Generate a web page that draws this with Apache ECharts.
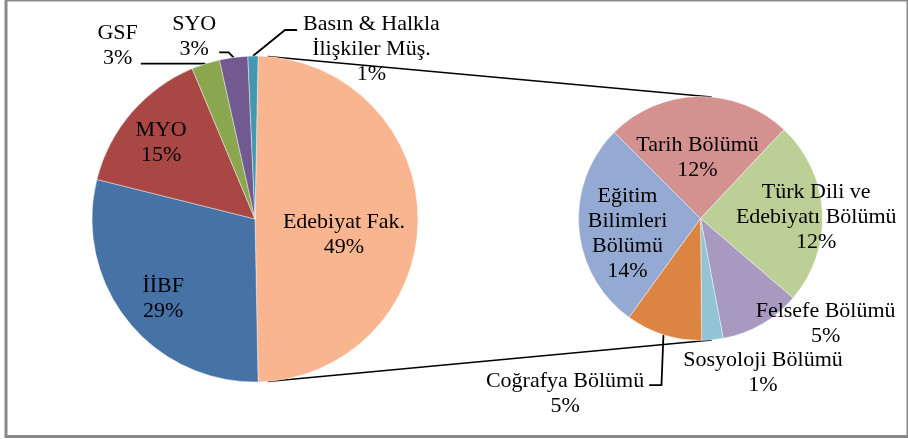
<!DOCTYPE html>
<html><head><meta charset="utf-8">
<script src="https://cdn.jsdelivr.net/npm/echarts@6/dist/echarts.min.js"></script>
<style>html,body{margin:0;padding:0;background:#fff}#c{width:908px;height:439px}</style>
</head><body><div id="c"></div>
<script>
// ---- data ----
const mainNames = ['Edebiyat Fak.', 'İİBF', 'MYO', 'GSF', 'SYO', 'Basın & Halkla\nİlişkiler Müş.'];
const mainValues = [49.4, 29.2, 14.8, 2.8, 2.8, 1.0];
const subNames = ['Tarih Bölümü', 'Türk Dili ve\nEdebiyatı Bölümü', 'Felsefe Bölümü', 'Sosyoloji Bölümü', 'Coğrafya Bölümü', 'Eğitim\nBilimleri\nBölümü'];
const subValues = [12.1, 12.0, 5.3, 1.4, 5.0, 13.6];

// ---- styles ----
const mainColors = ['#F8B590', '#4672A6', '#A94744', '#8AA64F', '#725990', '#4398AF'];
const subColors = ['#D39290', '#BBCF96', '#A899C1', '#93C4D6', '#DC8441', '#95AAD2'];
const L = {cx: 255, cy: 219, r: 163};
const R = {cx: 700.5, cy: 218.5, r: 122};
const FONT = 'Liberation Serif', FS = 22, LH = 25;
// [radius factor along mid angle, dx, dy]
const mainLabelPos = [[0.546, 0, 16], [0.72, 0, 7], [0.76, 0, 4], [1, -88, -17.6], [1, -39.4, -20.4], [1, 118.5, -7]];
const subLabelPos = [[0.5, -2, 0], [0.95, 0, 5], [1, 64, 0], [1, 50.5, 33], [1, -98.4, 59.3], [0.6, 0, 9]];
const mainOutside = [false, false, false, true, true, true];
const subOutside = [false, false, true, true, true, false];
const subLeader = [false, false, false, false, true, false];

const sum = a => a.reduce((s, v) => s + v, 0);
const grandTotal = sum(mainValues);
const mainStartDeg = mainValues[0] / sum(mainValues) * 360 / 2; // echarts angle (ccw from 3 o'clock)
const subStartDeg = 135;

function midAngles(values, startDeg) { // clockwise from top
  const tot = sum(values); let a = 90 - startDeg; const out = [];
  values.forEach(v => { const w = v / tot * 360; out.push(a + w / 2); a += w; });
  return out;
}
function arcPt(c, theta, k) {
  const t = theta * Math.PI / 180;
  return [c.cx + c.r * k * Math.sin(t), c.cy - c.r * k * Math.cos(t)];
}
const mainMid = midAngles(mainValues, mainStartDeg);
const subMid = midAngles(subValues, subStartDeg);

const lineStyle = {color: '#000', width: 1.8};
function mkData(names, values, colors, outside, leader) {
  return names.map((n, i) => ({
    name: n, value: values[i],
    itemStyle: {color: colors[i]},
    label: {position: outside[i] ? 'outside' : 'inside'},
    labelLine: {show: outside[i] && (leader ? leader[i] : true), lineStyle: lineStyle}
  }));
}

const labelCommon = {
  fontFamily: FONT, fontSize: FS, lineHeight: LH, color: '#000',
  formatter: p => p.name + '\n' + Math.round(p.value / grandTotal * 100) + '%'
};

function layoutFor(c, mids, pos, leaderFn) {
  return function (params) {
    const i = params.dataIndex;
    const p = pos[i];
    const a = arcPt(c, mids[i], p[0]);
    const X = a[0] + p[1], Y = a[1] + p[2];
    const w = params.labelRect.width, h = params.labelRect.height;
    const rect = {x: X - w / 2, y: Y - h / 2, width: w, height: h};
    const res = {x: X, y: Y, align: 'center', verticalAlign: 'middle'};
    const pts = leaderFn(i, arcPt(c, mids[i], 1), rect);
    if (pts) res.labelLinePoints = pts;
    return res;
  };
}

const mainLeader = (i, arc, rect) => {
  if (i === 3) return [arc, [(arc[0] + rect.x + rect.width) / 2, arc[1]], [rect.x + rect.width + 3, arc[1]]];
  if (i === 4) return [arc, [arc[0] - 5, arc[1] - 5], [rect.x + rect.width + 3, arc[1] - 5]];
  if (i === 5) return [arc, [rect.x - 18, rect.y + 18.5], [rect.x - 6, rect.y + 18.5]];
  return null;
};
const subLeaderFn = (i, arc, rect) => {
  if (i === 4) return [arc, [arc[0] - 2, rect.y + 16], [rect.x + rect.width + 5, rect.y + 16]];
  return null;
};

const chart = echarts.init(document.getElementById('c'));
const conn = [
  [arcPt(L, 4.5, 1), arcPt(R, 5.3, 1)],
  [arcPt(L, 175.5, 1), arcPt(R, 174.7, 1)]
];
chart.setOption({
  animation: false,
  textStyle: {fontFamily: FONT},
  series: [
    {
      type: 'pie', center: [L.cx, L.cy], radius: L.r, startAngle: mainStartDeg, clockwise: true,
      avoidLabelOverlap: false, silent: true,
      itemStyle: {borderColor: 'rgba(255,255,255,0.7)', borderWidth: 0.6},
      label: labelCommon,
      labelLayout: layoutFor(L, mainMid, mainLabelPos, mainLeader),
      data: mkData(mainNames, mainValues, mainColors, mainOutside, null)
    },
    {
      type: 'pie', center: [R.cx, R.cy], radius: R.r, startAngle: subStartDeg, clockwise: true,
      avoidLabelOverlap: false, silent: true,
      itemStyle: {borderColor: 'rgba(255,255,255,0.7)', borderWidth: 0.6},
      label: labelCommon,
      labelLayout: layoutFor(R, subMid, subLabelPos, subLeaderFn),
      data: mkData(subNames, subValues, subColors, subOutside, subLeader)
    }
  ],
  graphic: [
    {type: 'rect', silent: true, shape: {x: 6, y: 0, width: 902, height: 436.5},
     style: {fill: null, stroke: '#898989', lineWidth: 3}},
    {type: 'line', silent: true, shape: {x1: conn[0][0][0], y1: conn[0][0][1], x2: conn[0][1][0], y2: conn[0][1][1]},
     style: {stroke: '#000', lineWidth: 1.5}},
    {type: 'line', silent: true, shape: {x1: conn[1][0][0], y1: conn[1][0][1], x2: conn[1][1][0], y2: conn[1][1][1]},
     style: {stroke: '#000', lineWidth: 1.5}}
  ]
});
</script>
</body></html>
